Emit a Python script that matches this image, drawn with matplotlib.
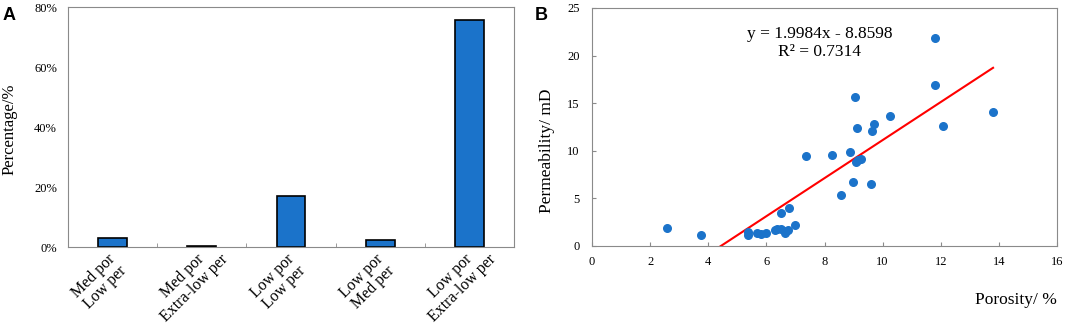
import numpy as np
import matplotlib.pyplot as plt
from matplotlib.transforms import ScaledTranslation

plt.rcParams['font.family'] = ['Liberation Serif', 'DejaVu Serif']

# Panel A data
categories = ['Med por\nLow per', 'Med por\nExtra-low per', 'Low por\nLow per',
              'Low por\nMed per', 'Low por\nExtra-low per']
percent = [2.9, 0.45, 16.9, 2.45, 75.8]
pct_ticks = [0, 20, 40, 60, 80]

# Panel B data
porosity = [2.58, 3.76, 5.36, 5.37, 5.67, 5.83, 5.97, 6.29, 6.36, 6.50, 6.52, 6.64,
            6.67, 6.73, 6.77, 6.99, 7.36, 8.26, 8.57, 8.87, 8.97, 9.06, 9.09, 9.11,
            9.16, 9.25, 9.61, 9.62, 9.72, 10.27, 11.79, 11.79, 12.08, 13.80]
permeability = [1.86, 1.19, 1.44, 1.12, 1.37, 1.26, 1.40, 1.65, 1.82, 3.43, 1.75, 1.33,
                1.61, 1.68, 3.99, 2.21, 9.42, 9.56, 5.32, 9.91, 6.69, 15.69, 8.86, 12.43,
                9.03, 9.14, 6.55, 12.11, 12.82, 13.69, 21.85, 16.91, 12.61, 14.04]
slope, intercept = 1.9984, -8.8598
r2 = 0.7314

blue = '#1b73ca'
gray = '#8a8a8a'

fig = plt.figure(figsize=(10.65, 3.28), dpi=100)

# ---- Panel A ----
axA = fig.add_axes([68/1065, 1-247/328, 446/1065, 240/328])
xpos = np.arange(len(categories))
axA.bar(xpos, percent, width=0.325, color=blue, edgecolor='black', linewidth=1.2)
axA.set_xlim(-0.5, len(categories) - 0.5)
axA.set_ylim(0, 80)
axA.set_yticks(pct_ticks)
axA.set_yticklabels([f'{v}%' for v in pct_ticks], fontsize=9)
axA.tick_params(axis='y', length=0, pad=8)
axA.set_xticks(xpos)
axA.set_xticklabels(categories, fontsize=11.5, rotation=45, ha='center', va='center',
                    rotation_mode='anchor', multialignment='center', linespacing=1.05)
axA.tick_params(axis='x', which='major', length=0, pad=0)
axA.set_xticks(xpos[:-1] + 0.5, minor=True)
axA.tick_params(axis='x', which='minor', direction='in', length=3, color=gray)
# rotated labels are centred a little below-left of each category
off = ScaledTranslation(-13/100, -35/100, fig.dpi_scale_trans)
for lab in axA.get_xticklabels():
    lab.set_transform(lab.get_transform() + off)
for s in axA.spines.values():
    s.set_color(gray)
axA.set_ylabel('Percentage/%', fontsize=12)
axA.yaxis.set_label_coords(-0.114, 0.49)

fig.text(3/1065, 1-20/328, 'A', fontsize=13, fontweight='bold', family='Liberation Sans')

# ---- Panel B ----
axB = fig.add_axes([592/1065, 1-246/328, 465/1065, 238/328])
axB.scatter(porosity, permeability, s=30, color=blue, zorder=3)
xl = np.array([min(porosity), max(porosity)])
axB.plot(xl, slope * xl + intercept, color='red', linewidth=1.5, zorder=2)
axB.set_xlim(0, 16)
axB.set_ylim(0, 25)
axB.set_xticks(np.arange(0, 17, 2))
axB.set_yticks(np.arange(0, 26, 5))
axB.tick_params(axis='x', direction='in', length=3, color=gray, labelsize=9, pad=7)
axB.tick_params(axis='y', direction='in', length=3, color=gray, labelsize=9, pad=9)
for s in axB.spines.values():
    s.set_color(gray)
axB.text(7.82, 21.3, f'y = {slope}x - {abs(intercept)}\nR\u00b2 = {r2}', fontsize=12.5,
         ha='center', va='center', linespacing=1.15)
axB.set_ylabel('Permeability/ mD', fontsize=12.5)
axB.yaxis.set_label_coords(-0.080, 0.40)
axB.set_xlabel('Porosity/ %', fontsize=12.5, ha='right', va='center')
axB.xaxis.set_label_coords(1.0, -0.227)

fig.text(535/1065, 1-20/328, 'B', fontsize=13, fontweight='bold', family='Liberation Sans')

fig.savefig('out.png', dpi=100)
